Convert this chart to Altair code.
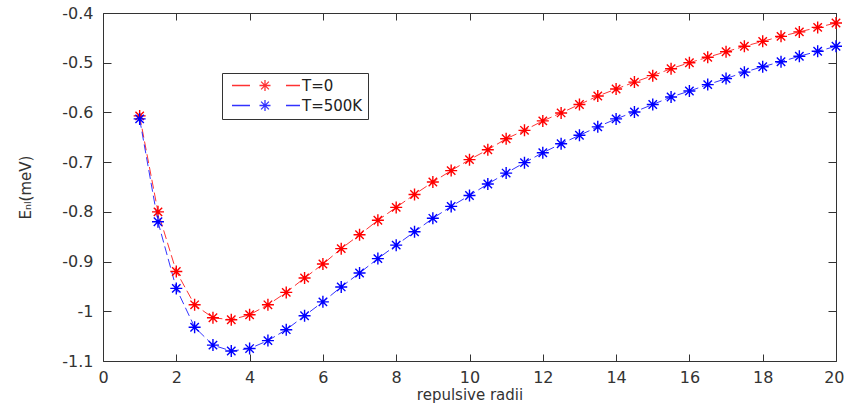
import altair as alt
import pandas as pd

radii = [1, 1.5, 2, 2.5, 3, 3.5, 4, 4.5, 5, 5.5, 6, 6.5, 7, 7.5, 8, 8.5, 9, 9.5, 10,
         10.5, 11, 11.5, 12, 12.5, 13, 13.5, 14, 14.5, 15, 15.5, 16, 16.5, 17, 17.5,
         18, 18.5, 19, 19.5, 20]
energy_t0 = [-0.607, -0.800, -0.920, -0.987, -1.013, -1.017, -1.007, -0.987, -0.962,
             -0.933, -0.905, -0.874, -0.846, -0.817, -0.791, -0.765, -0.740, -0.717,
             -0.695, -0.675, -0.653, -0.636, -0.617, -0.601, -0.584, -0.567, -0.553,
             -0.539, -0.526, -0.512, -0.500, -0.489, -0.478, -0.467, -0.457, -0.447,
             -0.438, -0.429, -0.420]
energy_t500 = [-0.613, -0.820, -0.954, -1.032, -1.068, -1.080, -1.075, -1.059, -1.037,
               -1.009, -0.981, -0.951, -0.923, -0.894, -0.867, -0.840, -0.813, -0.789,
               -0.767, -0.744, -0.722, -0.701, -0.681, -0.663, -0.646, -0.629, -0.613,
               -0.599, -0.584, -0.569, -0.557, -0.544, -0.532, -0.519, -0.508, -0.498,
               -0.487, -0.477, -0.467]
series_names = ["T=0", "T=500K"]
series_colors = ["#ff0000", "#0000ff"]
x_ticks = [0, 2, 4, 6, 8, 10, 12, 14, 16, 18, 20]
y_ticks = [-1.1, -1.0, -0.9, -0.8, -0.7, -0.6, -0.5, -0.4]

df = pd.DataFrame({
    "radius": radii + radii,
    "energy": energy_t0 + energy_t500,
    "series": [series_names[0]] * len(radii) + [series_names[1]] * len(radii),
})

W, H = 733, 348
STAR = "M-1,0L1,0M0,-1L0,1M-0.7,-0.7L0.7,0.7M-0.7,0.7L0.7,-0.7"
LEG_SYM = ("M-0.385,0L2.384,0M7.923,0L10.077,0"
           "M3.846,0L5.538,0M4.692,-0.846L4.692,0.846"
           "M4.092,-0.6L5.292,0.6M4.092,0.6L5.292,-0.6")

label_expr = ("datum.value == 0 ? '0' : (datum.value < 0 ? '-' : '') + "
              "format(abs(datum.value), '~g')")

xs = alt.Scale(domain=[0, 20], nice=False, zero=False)
ys = alt.Scale(domain=[-1.1, -0.4], nice=False, zero=False)
cs = alt.Scale(domain=series_names, range=series_colors)

legend = alt.Legend(title=None, orient="none", legendX=119, legendY=60,
                    direction="vertical", symbolType=LEG_SYM, symbolSize=169,
                    symbolStrokeWidth=1.3, labelFont="DejaVu Sans",
                    labelFontSize=15, labelColor="#222", labelOffset=60,
                    padding=5, rowPadding=3, strokeColor="#333", fillColor="white")

last_x = "datum.value >= 20"

lines = alt.Chart(df).mark_line(strokeWidth=1, strokeDash=[9, 4], opacity=0.8).encode(
    x=alt.X("radius:Q", scale=xs,
            axis=alt.Axis(orient="bottom", values=x_ticks, title="repulsive radii",
                          ticks=False, tickSize=0, domain=False, labelPadding=8,
                          labelFlush=False, titlePadding=2, labelExpr=label_expr,
                          labelAlign={"condition": {"test": last_x, "value": "right"},
                                      "value": "center"},
                          labelOffset={"condition": {"test": last_x, "value": 8},
                                       "value": 0})),
    y=alt.Y("energy:Q", scale=ys,
            axis=alt.Axis(orient="left", values=y_ticks, title="Eₙₗ(meV)",
                          ticks=False, tickSize=0, domain=False, labelPadding=10,
                          labelFlush=False, titlePadding=28, titleFontSize=15,
                          labelExpr=label_expr)),
    color=alt.Color("series:N", scale=cs, legend=legend),
)

points = alt.Chart(df).mark_point(shape=STAR, size=144, filled=False,
                                  strokeWidth=1.4, opacity=1).encode(
    x=alt.X("radius:Q", scale=xs,
            axis=alt.Axis(orient="top", offset=-H, values=x_ticks, labels=False,
                          domain=False, tickSize=7, title=None)),
    y=alt.Y("energy:Q", scale=ys,
            axis=alt.Axis(orient="right", offset=-W, values=y_ticks, labels=False,
                          domain=False, tickSize=8, title=None)),
    color=alt.Color("series:N", scale=cs, legend=legend),
)

ghost = alt.Chart(df).mark_point(opacity=0).encode(
    x=alt.X("radius:Q", scale=xs,
            axis=alt.Axis(orient="bottom", offset=-H, values=x_ticks, labels=False,
                          domain=False, tickSize=7, title=None)),
    y=alt.Y("energy:Q", scale=ys,
            axis=alt.Axis(orient="left", offset=-W, values=y_ticks, labels=False,
                          domain=False, tickSize=8, title=None)),
)

chart = alt.layer(lines, points, ghost).resolve_axis(
    x="independent", y="independent"
).properties(
    width=W, height=H,
    autosize=alt.AutoSizeParams(type="none"),
    padding={"left": 103, "top": 13, "right": 9, "bottom": 46},
    background="white",
).configure_view(
    stroke="#333", strokeWidth=1
).configure_axis(
    grid=False, labelFont="DejaVu Sans", labelFontSize=16, labelColor="#333",
    titleFont="DejaVu Sans", titleFontSize=15, titleFontWeight="normal",
    titleColor="#333", tickColor="#333", tickWidth=1,
)

chart.save("out.html", embed_options={"renderer": "svg", "actions": False})
